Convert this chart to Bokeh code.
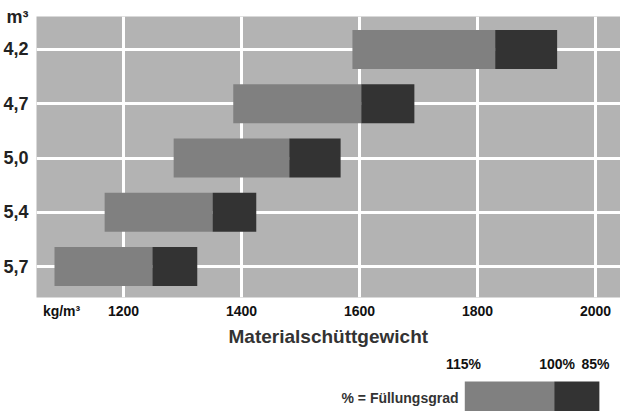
from bokeh.plotting import figure
from bokeh.models import FixedTicker, Range1d
from bokeh.layouts import column
from bokeh.core.properties import value
from bokeh.embed import file_html
from bokeh.resources import INLINE

# ---- data ----
categories = ["4,2", "4,7", "5,0", "5,4", "5,7"]          # m³
start_115 = [1588, 1386, 1285, 1168, 1083]                # 115 % Füllungsgrad
mid_100 = [1830, 1603, 1481, 1351, 1249]                  # 100 % Füllungsgrad
end_85 = [1935, 1693, 1568, 1425, 1325]                   # 85 % Füllungsgrad
x_ticks = [1200, 1400, 1600, 1800, 2000]
x_tick_labels = ["1200", "1400", "1600", "1800", "2000"]
x_unit = "kg/m³"
y_unit = "m³"
x_title = "Materialschüttgewicht"
legend_title = "% = Füllungsgrad"
legend_labels = ["115%", "100%", "85%"]

BG = "#b3b3b3"
MID = "#808080"
DARK = "#333333"
SANS = "'Liberation Sans', Arial, sans-serif"

n = len(categories)
ypos = [n - 1 - i for i in range(n)]

p = figure(frame_width=584, frame_height=281,
           x_range=Range1d(1052.5, 2042.4), y_range=Range1d(-0.571, 4.608),
           output_backend="svg", toolbar_location=None,
           min_border_left=29, min_border_right=0, min_border_top=16, min_border_bottom=23)
p.background_fill_color = BG
p.border_fill_color = "white"
p.outline_line_color = None

p.hbar(y=ypos, left=start_115, right=mid_100, height=0.72, fill_color=MID, line_color=None)
p.hbar(y=ypos, left=mid_100, right=end_85, height=0.72, fill_color=DARK, line_color=None)

# grids
p.xgrid.ticker = FixedTicker(ticks=x_ticks)
p.ygrid.ticker = FixedTicker(ticks=ypos)
for g in (p.xgrid[0], p.ygrid[0]):
    g.grid_line_color = "white"
    g.grid_line_width = 3
    g.grid_line_alpha = 1.0

# x axis: unit label as an extra tick
unit_x = 1095
p.xaxis.ticker = FixedTicker(ticks=[unit_x] + x_ticks)
ov = {unit_x: x_unit}
ov.update({t: l for t, l in zip(x_ticks, x_tick_labels)})
p.xaxis.major_label_overrides = ov
p.xaxis.major_label_text_font = SANS
p.xaxis.major_label_text_font_style = "bold"
p.xaxis.major_label_text_font_size = "14px"
p.xaxis.major_label_text_color = "#111111"
p.xaxis.major_label_standoff = 5

# y axis: categories + unit at the top edge
top_tick = 4.607
p.yaxis.ticker = FixedTicker(ticks=ypos + [top_tick])
yov = {y: c for y, c in zip(ypos, categories)}
yov[top_tick] = y_unit
p.yaxis.major_label_overrides = yov
p.yaxis.major_label_text_font = SANS
p.yaxis.major_label_text_font_style = "bold"
p.yaxis.major_label_text_font_size = "18px"
p.yaxis.major_label_text_color = "#222222"
p.yaxis.major_label_standoff = 8

for ax in (p.xaxis[0], p.yaxis[0]):
    ax.axis_line_color = None
    ax.major_tick_line_color = None
    ax.minor_tick_line_color = None
    ax.major_tick_out = 0
    ax.major_tick_in = 0

# ---- lower part: axis title and legend ----
q = figure(width=613, height=91, x_range=Range1d(8, 621), y_range=Range1d(411, 320),
           output_backend="svg", toolbar_location=None, min_border=0,
           x_axis_location=None, y_axis_location=None)
q.outline_line_color = None
q.grid.visible = False
q.background_fill_color = "white"
q.border_fill_color = "white"

q.text(x=[318], y=[335], text=[x_title], text_font=value(SANS), text_font_style="bold",
       text_font_size="19px", text_align="center", text_baseline="middle", text_color="#333333")
q.text(x=[332], y=[396], text=[legend_title], text_font=value(SANS), text_font_style="bold",
       text_font_size="14px", text_align="left", text_baseline="middle", text_color="#333333")
q.quad(left=[463], right=[558], top=[380], bottom=[411], fill_color=MID, line_color=None)
q.quad(left=[558], right=[606], top=[380], bottom=[411], fill_color=DARK, line_color=None)
q.text(x=[443, 542, 587], y=[362, 362, 362], text=legend_labels, text_font=value(SANS),
       text_font_style="bold", text_font_size="14px", text_align="left",
       text_baseline="middle", text_color="#111111")

layout = column(p, q, spacing=0)
open("out.html", "w").write(file_html(layout, INLINE))
